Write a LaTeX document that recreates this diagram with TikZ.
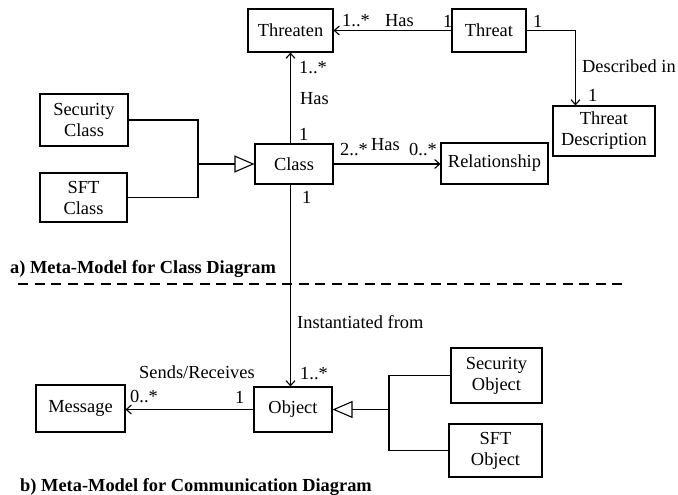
\documentclass[tikz,border=0pt]{standalone}
\usepackage{fontspec}
\setmainfont{Liberation Serif}
\usetikzlibrary{arrows.meta,calc}
\begin{document}
\begin{tikzpicture}[x=1pt,y=-1pt,
  font=\fontsize{18.4}{21}\selectfont,
  box/.style={draw,line width=1.1pt,align=center,inner sep=0pt},
  conn/.style={line width=1.1pt},
  arr/.style={conn,-{Straight Barb[length=5pt,width=9pt,line width=1.1pt]}},
  gen/.style={conn,-{Triangle[open,length=20pt,width=17pt,fill=white,line width=1.1pt]}},
  lbl/.style={anchor=west,inner sep=0pt},
  title/.style={anchor=west,inner sep=0pt,font=\fontsize{18.4}{21}\selectfont\bfseries},
  sep/.style={line width=2pt,dash pattern=on 10pt off 6.5pt}]
\useasboundingbox (0,0) rectangle (678,495);

% boxes
\node[box,minimum width=85pt,minimum height=43pt] (threaten) at (290.5,30.5) {Threaten};
\node[box,minimum width=74pt,minimum height=43pt] (threat) at (489,30.5) {Threat};
\node[box,minimum width=102pt,minimum height=50pt] (tdesc) at (604,131) {Threat\\Description};
\node[box,minimum width=107pt,minimum height=41pt] (rel) at (494.5,163.5) {Relationship};
\node[box,minimum width=78pt,minimum height=40pt] (class) at (294,164) {Class};
\node[box,minimum width=88pt,minimum height=52pt] (secclass) at (84,120) {Security\\Class};
\node[box,minimum width=87pt,minimum height=49pt] (sftclass) at (83.5,197.5) {SFT\\Class};
\node[box,minimum width=78pt,minimum height=45pt] (object) at (293,409.5) {Object};
\node[box,minimum width=89pt,minimum height=47pt] (message) at (80.5,408.5) {Message};
\node[box,minimum width=91pt,minimum height=55pt] (secobj) at (496.5,375.5) {Security\\Object};
\node[box,minimum width=93pt,minimum height=53pt] (sftobj) at (495.5,450.5) {SFT\\Object};

% helper coordinates
\coordinate (jc) at (198,164);
\coordinate (jo) at (389,409.5);
\coordinate (tdin) at ([xshift=23pt]tdesc.north west);

% connectors
\draw[arr] (class.north -| threaten.south) -- (threaten.south);
\draw[arr] (threat.west) -- (threaten.east);
\draw[arr] (threat.east) -| (tdin);
\draw[arr] (class.east) -- (class.east -| rel.west);
\draw[arr] (class.south -| threaten.south) -- (object.north -| threaten.south);
\draw[arr] (object.west) -- (object.west -| message.east);

% generalizations
\draw[conn] (secclass.east) -| (jc);
\draw[conn] (sftclass.east) -| (jc);
\draw[gen] (jc) -- (class.west);
\draw[conn] (secobj.west) -| (jo);
\draw[conn] (sftobj.west) -| (jo);
\draw[gen] (jo) -- (object.east);

% separator
\coordinate (sepL) at (18,284);
\coordinate (sepR) at (628,284);
\draw[sep] (sepL) -- (sepR);

% labels
\node[lbl] (l1) at (299,68) {1..*};
\node[lbl] (l2) at (300,99) {Has};
\node[lbl] (l3) at (299,134) {1};
\node[lbl] (l4) at (302,197.5) {1};
\node[lbl] (l5) at (342,21) {1..*};
\node[lbl] (l6) at (385,21) {Has};
\node[lbl] (l7) at (443,21) {1};
\node[lbl] (l8) at (533,21) {1};
\node[lbl] (l9) at (582,66.5) {Described in};
\node[lbl] (l10) at (588,95) {1};
\node[lbl] (l11) at (340,150) {2..*};
\node[lbl] (l12) at (371,145) {Has};
\node[lbl] (l13) at (409,150) {0..*};
\node[lbl] (l14) at (297,322) {Instantiated from};
\node[lbl] (l15) at (139,372) {Sends/Receives};
\node[lbl] (l16) at (300,374) {1..*};
\node[lbl] (l17) at (130,397) {0..*};
\node[lbl] (l18) at (235,397) {1};
\node[title] (ta) at (10,269) {a) Meta-Model for Class Diagram};
\node[title] (tb) at (20,487) {b) Meta-Model for Communication Diagram};
\end{tikzpicture}
\end{document}
